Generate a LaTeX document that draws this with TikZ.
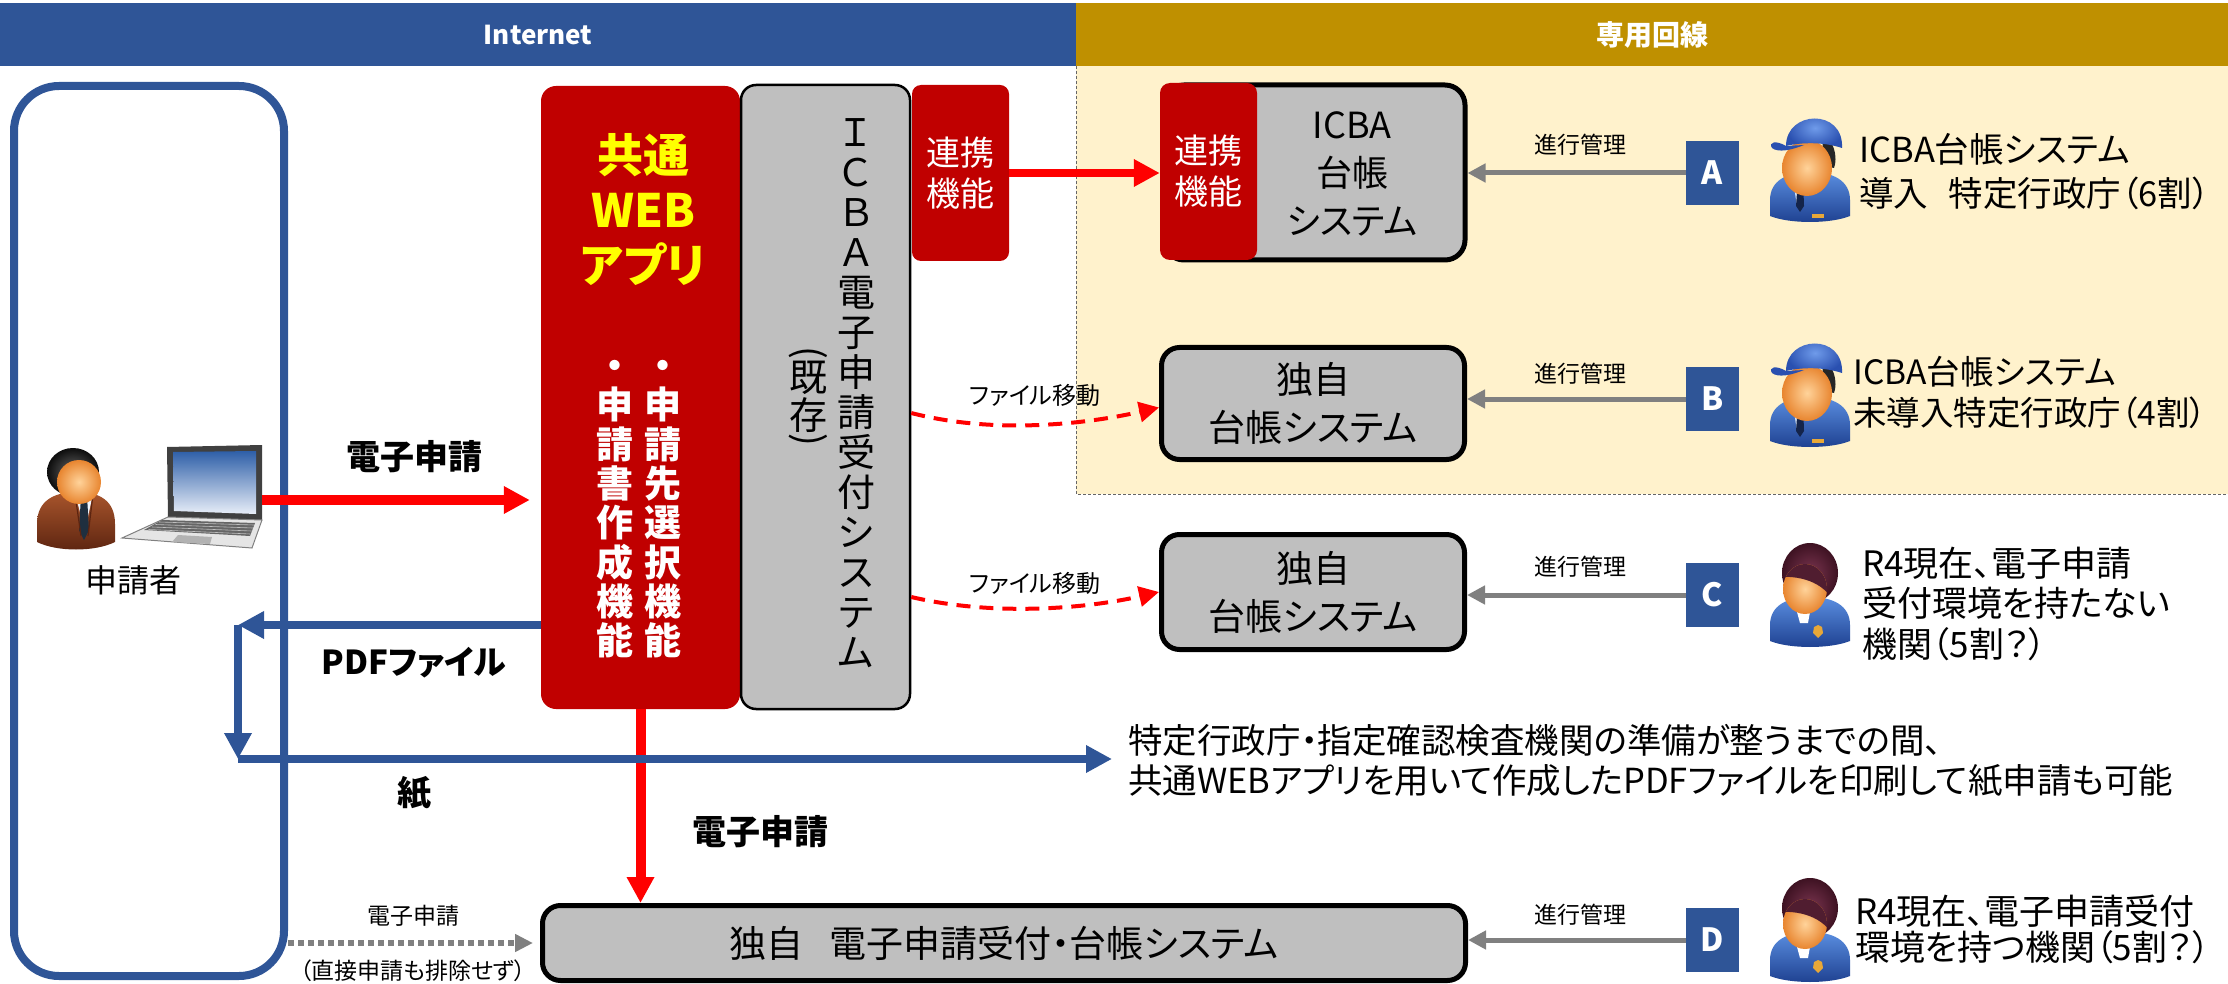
\documentclass[tikz,border=0pt]{standalone}
\usepackage{fontspec}
\usepackage{graphicx}
\setmainfont{Noto Sans CJK JP}[RawFeature=+palt]
\usetikzlibrary{arrows.meta,calc}

\definecolor{hdrblue}{HTML}{2F5597}
\definecolor{hdrgold}{HTML}{BF9000}
\definecolor{zonefill}{HTML}{FFF2CC}
\definecolor{appred}{HTML}{C00000}
\definecolor{sysgray}{HTML}{BFBFBF}
\definecolor{flowgray}{HTML}{808080}
\definecolor{linkred}{HTML}{FF0000}
\definecolor{titleyellow}{HTML}{FFFF00}
\definecolor{skinL}{HTML}{FFD39A}
\definecolor{skinD}{HTML}{E8852F}
\definecolor{suitbrownA}{HTML}{A8552C}
\definecolor{suitbrownB}{HTML}{5C2410}
\definecolor{tiedark}{HTML}{1F2F3F}
\definecolor{suitblueA}{HTML}{5A8EE0}
\definecolor{suitblueB}{HTML}{1D3F8F}
\definecolor{shirtblue}{HTML}{D6E4F5}
\definecolor{tienavy}{HTML}{14244A}
\definecolor{badgegold}{HTML}{E8A838}
\definecolor{capL}{HTML}{6F9BEA}
\definecolor{capD}{HTML}{2A50B0}
\definecolor{hairL}{HTML}{7A3550}
\definecolor{hairD}{HTML}{3E1222}
\definecolor{screentop}{HTML}{2E5FA8}
\definecolor{screenbot}{HTML}{E8EEF8}

\newcommand{\setfs}[2]{\fontsize{#1}{#2}\selectfont}
\newcommand{\cjkstrut}{\rule[-0.12em]{0pt}{1em}}

\tikzset{
  band/.style={inner sep=0pt, text=white, font=\setfs{26}{30}\bfseries, minimum height=63pt, anchor=north west},
  sysbox/.style={draw=black, fill=sysgray, line width=5pt, rounded corners=18pt, inner sep=0pt, align=center, font=\setfs{37}{48}},
  redbox/.style={fill=appred, rounded corners=10pt, inner sep=0pt, text=white, align=center, font=\setfs{34}{41}},
  letterbox/.style={fill=hdrblue, text=white, minimum width=53pt, minimum height=64pt, inner sep=0pt, font=\setfs{32}{36}\bfseries},
  textonly/.style={inner sep=0pt, align=center},
  lbl/.style={textonly, font=\setfs{23}{27}},
  boldlbl/.style={textonly, font=\setfs{34}{40}\bfseries},
  orgtext/.style={inner sep=0pt, anchor=west, align=left},
  mgmtflow/.style={draw=flowgray, line width=5pt, -{Triangle[length=18pt,width=18pt]}},
  redflow/.style={draw=linkred, line width=10pt, -{Triangle[length=26pt,width=26pt]}},
  blueflow/.style={draw=hdrblue, line width=8pt, -{Triangle[length=26pt,width=26pt]}},
  moveflow/.style={draw=linkred, line width=4pt, dash pattern=on 14pt off 9pt, -{Triangle[length=20pt,width=20pt]}},
  directflow/.style={draw=flowgray, line width=6pt, dash pattern=on 6pt off 4pt, -{Triangle[length=18pt,width=17pt]}},
  pics/businessman/.style={code={
    \shade[top color=suitbrownA, bottom color=suitbrownB] (-38,42) -- (-38,24)
      .. controls (-38,0) and (-20,-8) .. (2,-8) .. controls (24,-8) and (40,0) .. (40,24)
      -- (40,42) .. controls (20,52) and (-18,52) .. cycle;
    \fill[shirtblue!40!white] (0,-6) -- (10,30) -- (18,-6) -- cycle;
    \fill[tiedark] (6,-4) -- (12,-4) -- (14,30) -- (9,40) -- (4,30) -- cycle;
    \draw[suitbrownB, line width=1.2pt] (0,-6) -- (6,36) (18,-6) -- (13,36);
    \shade[inner color=black!60, outer color=black!95] (-2,-28) ellipse [x radius=26, y radius=24];
    \shade[inner color=skinL, outer color=skinD] (4,-18) ellipse [x radius=22, y radius=22];
  }},
  pics/official/.style={code={
    \shade[top color=suitblueA, bottom color=suitblueB] (-36,46) -- (-36,30)
      .. controls (-36,10) and (-18,2) .. (4,2) .. controls (26,2) and (44,10) .. (44,30)
      -- (44,46) .. controls (24,54) and (-16,54) .. cycle;
    \fill[shirtblue] (-14,4) -- (-9,36) -- (4,4) -- cycle;
    \fill[tienavy] (-8,8) -- (-3,8) -- (-2,36) -- (-6,42) -- (-10,36) -- cycle;
    \fill[badgegold] (6,44) rectangle (18,48);
    \fill[black!85] (16,-34) .. controls (28,-32) and (32,-12) .. (28,-2) -- (18,-4) -- cycle;
    \shade[inner color=skinL, outer color=skinD] (1,-2) ellipse [x radius=25, y radius=28];
    \shade[inner color=capL, outer color=capD] (-20,-24) .. controls (-20,-60) and (38,-62) .. (36,-22)
      .. controls (18,-28) and (-4,-28) .. cycle;
    \fill[capD] (-20,-24) .. controls (-30,-30) and (-38,-28) .. (-34,-22)
      .. controls (-28,-17) and (-14,-20) .. (-2,-25) -- cycle;
  }},
  pics/woman/.style={code={
    \shade[top color=suitblueA, bottom color=suitblueB] (-36,46) -- (-36,30)
      .. controls (-36,10) and (-18,2) .. (4,2) .. controls (26,2) and (44,10) .. (44,30)
      -- (44,46) .. controls (24,54) and (-16,54) .. cycle;
    \fill[white] (-12,6) -- (-6,28) -- (2,28) -- (6,6) -- cycle;
    \fill[badgegold] (8,32) -- (12,30) -- (16,32) -- (17,38) -- (12,43) -- (7,38) -- cycle;
    \shade[inner color=hairL, outer color=hairD] (4,-22) ellipse [x radius=28, y radius=30];
    \shade[inner color=skinL, outer color=skinD] (-1,-6) ellipse [x radius=22, y radius=25];
    \begin{scope}
      \clip (-1,-6) ellipse [x radius=22, y radius=25];
      \fill[hairD!70!hairL] (-30,-40) -- (30,-40) -- (30,10)
        .. controls (20,-10) and (0,-20) .. (-30,-18) -- cycle;
    \end{scope}
  }},
}

\begin{document}
\begin{tikzpicture}[x=1pt,y=-1pt]
\useasboundingbox (0,0) rectangle (2228,984);

% leased-line zone
\fill[zonefill] (1076,66) rectangle (2228,494);
\draw[black!60, line width=1pt, dash pattern=on 3pt off 2pt] (1076,66) -- (1076,494) -- (2228,494);

% header bands
\node[band, fill=hdrblue, minimum width=1076pt] (inet) at (0,3) {Internet};
\node[band, fill=hdrgold, minimum width=1152pt, font=\setfs{28}{30}\bfseries] (lease) at (1076,3) {専用回線};

% applicant area
\node[draw=hdrblue, line width=8pt, rounded corners=45pt, minimum width=270pt, minimum height=890pt, inner sep=0pt] (app) at (149,531) {};
\pic at (75,500) {businessman};
% laptop
\fill[black!75] (167,447) -- (262,445) -- (262,520) -- (168,517) -- cycle;
\shade[top color=screentop, bottom color=screenbot] (173,452) -- (256,451) -- (256,514) -- (174,511) -- cycle;
\fill[black!10] (168,517) -- (262,520) -- (252,548) -- (122,538) -- cycle;
\draw[black!50, line width=1pt] (168,517) -- (262,520) -- (252,548) -- (122,538) -- cycle;
\fill[black!60] (162,520) -- (255,523) -- (250,536) -- (144,530) -- cycle;
\foreach \k in {0,...,3} {\draw[black!25, line width=0.6pt] (159-3.5*\k,522+2.5*\k) -- (254-1.2*\k,525+3*\k);}
\fill[black!30] (178,535) -- (212,537) -- (210,544) -- (172,542) -- cycle;
\coordinate (lapR) at (262,500);
\node[textonly, font=\setfs{32}{36}] (apptxt) at (133,580) {\cjkstrut 申請者};

% common web app
\node[redbox, rounded corners=15pt, minimum width=199pt, minimum height=623pt] (web) at (640.5,397.5) {};
\node[textonly, text=titleyellow, font=\setfs{46}{55}\bfseries] (webtitle) at (643,210) {\cjkstrut 共通\\WEB\\アプリ\cjkstrut};
\node[textonly, text=white, font=\setfs{37}{39.3}\bfseries] (funcA) at (663,503) {\cjkstrut ・\\申\\請\\先\\選\\択\\機\\能\cjkstrut};
\node[textonly, text=white, font=\setfs{37}{39.3}\bfseries] (funcB) at (615,503) {\cjkstrut ・\\申\\請\\書\\作\\成\\機\\能\cjkstrut};

% existing ICBA reception system
\node[draw=black, fill=sysgray, line width=2.5pt, rounded corners=15pt, minimum width=169pt, minimum height=624pt, inner sep=0pt] (icba) at (825.5,397) {};
\node[textonly, font=\setfs{38}{40}] (icbatxt) at (856,392) {\cjkstrut Ｉ\\Ｃ\\Ｂ\\Ａ\\電\\子\\申\\請\\受\\付\\シ\\ス\\テ\\ム\cjkstrut};
\node[textonly, font=\setfs{38}{40}] (ex1) at (808,353) {\rotatebox{-90}{(}};
\node[textonly, font=\setfs{38}{40}] (ex2) at (808,377) {\cjkstrut 既};
\node[textonly, font=\setfs{38}{40}] (ex3) at (808,415) {\cjkstrut 存};
\node[textonly, font=\setfs{38}{40}] (ex4) at (808,440) {\rotatebox{-90}{)}};

% link function
\node[redbox, rounded corners=9pt, minimum width=97pt, minimum height=176pt] (ren1) at (960.5,173) {\cjkstrut 連携\\機能\cjkstrut};

% ICBA ledger system
\node[sysbox, rounded corners=20pt, minimum width=301pt, minimum height=175pt] (dai1) at (1314.5,172.5) {};
\node[redbox, minimum width=97pt, minimum height=177pt] (ren2) at (1208.5,171.5) {\cjkstrut 連携\\機能\cjkstrut};
\node[textonly, font=\setfs{36}{48}] (dai1txt) at (1352,173) {\cjkstrut ICBA\\台帳\\システム\cjkstrut};

% own ledger systems
\node[sysbox, minimum width=303pt, minimum height=112pt] (dokuB) at (1313,403.5) {\cjkstrut 独自\\台帳システム\cjkstrut};
\node[sysbox, minimum width=303pt, minimum height=115pt] (dokuC) at (1313,592) {\cjkstrut 独自\\台帳システム\cjkstrut};
\node[sysbox, minimum width=923pt, minimum height=75pt, font=\setfs{37}{44}] (bot) at (1004,943) {\cjkstrut 独自\hspace{0.7em}電子申請受付・台帳システム};

% category boxes
\node[letterbox] (ltA) at (1712.5,173) {A};
\node[letterbox] (ltB) at (1712.5,399) {B};
\node[letterbox] (ltC) at (1712.5,595) {C};
\node[letterbox] (ltD) at (1712.5,940) {D};

% progress management flows
\draw[mgmtflow] (ltA.west) -- (ltA.west -| dai1.east);
\draw[mgmtflow] (ltB.west) -- (ltB.west -| dokuB.east);
\draw[mgmtflow] (ltC.west) -- (ltC.west -| dokuC.east);
\draw[mgmtflow] (ltD.west) -- (ltD.west -| bot.east);
\node[lbl] (mgA) at (1580,145) {\cjkstrut 進行管理};
\node[lbl] (mgB) at (1580,374) {\cjkstrut 進行管理};
\node[lbl] (mgC) at (1580,567) {\cjkstrut 進行管理};
\node[lbl] (mgD) at (1580,915) {\cjkstrut 進行管理};

% authorities
\pic at (1806,170) {official};
\pic at (1806,395) {official};
\pic at (1806,595) {woman};
\pic at (1806,930) {woman};
\node[orgtext, font=\setfs{34.5}{44}] (orgA) at (1859,171) {\cjkstrut ICBA台帳システム\\導入\hspace{0.6em}特定行政庁（6割）\cjkstrut};
\node[orgtext, font=\setfs{33.5}{41}] (orgB) at (1853,392.5) {\cjkstrut ICBA台帳システム\\未導入特定行政庁（4割）\cjkstrut};
\node[orgtext, font=\setfs{35}{40.5}] (orgC) at (1862,603.5) {\cjkstrut R4現在、電子申請\\受付環境を持たない\\機関（5割？）\cjkstrut};
\node[orgtext, font=\setfs{35}{36}] (orgD) at (1855,929.5) {\cjkstrut R4現在、電子申請受付\\環境を持つ機関（5割？）\cjkstrut};

% note on paper applications
\node[orgtext, font=\setfs{34.5}{40}] (note) at (1128,760) {\cjkstrut 特定行政庁・指定確認検査機関の準備が整うまでの間、\\共通WEBアプリを用いて作成したPDFファイルを印刷して紙申請も可能\cjkstrut};

% electronic application flows
\draw[redflow, shorten >=11pt] (lapR) -- (lapR -| web.west);
\node[boldlbl] (lbl1) at (414,457) {\cjkstrut 電子申請};
\draw[redflow, line width=8pt] (ren1.east) -- (ren1.east -| ren2.west);
\draw[redflow] (web.south) -- (web.south |- bot.north);
\node[boldlbl] (lbl2) at (760,832) {\cjkstrut 電子申請};

% file transfers
\draw[moveflow] ($(icba.east)+(0,16)$) .. controls +(85,22) and +(-70,16) .. ($(dokuB.west)+(0,4)$);
\node[lbl, font=\setfs{24}{28}] (mv1) at (1035,395) {\cjkstrut ファイル移動};
\draw[moveflow] ($(icba.east)+(0,200)$) .. controls +(85,20) and +(-70,16) .. (dokuC.west);
\node[lbl, font=\setfs{24}{28}] (mv2) at (1035,583) {\cjkstrut ファイル移動};

% PDF and paper flows
\coordinate (pdfend) at (238,625);
\coordinate (paperL) at (238,759);
\draw[blueflow] (web.west |- pdfend) -- (pdfend);
\draw[blueflow] (pdfend) -- (paperL);
\draw[blueflow, shorten >=16pt] (paperL) -- (paperL -| note.west);
\node[boldlbl, font=\setfs{33}{40}\bfseries] (pdflbl) at (414,662) {\cjkstrut PDFファイル};
\node[boldlbl] (paperlbl) at (414,793) {\cjkstrut 紙};

% direct application
\draw[directflow, shorten >=7pt] (app.east |- bot) -- (bot.west);
\node[lbl] (dir1) at (413,916) {\cjkstrut 電子申請};
\node[lbl] (dir2) at (413,971) {\cjkstrut （直接申請も排除せず）};
\end{tikzpicture}
\end{document}
